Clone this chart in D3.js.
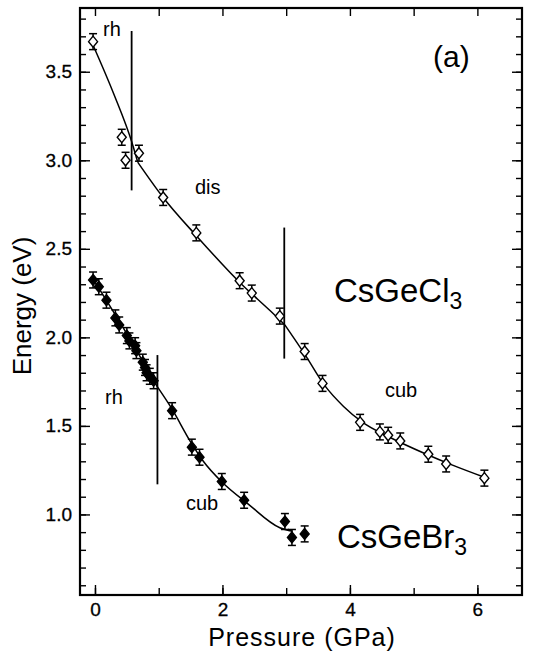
<!DOCTYPE html>
<html>
<head>
<meta charset="utf-8">
<script src="https://cdn.jsdelivr.net/npm/d3@7"></script>
<style>
  body { margin: 0; background: #fff; }
  text { font-family: "Liberation Sans", Arial, sans-serif; fill: #000; }
</style>
</head>
<body>
<div id="chart"></div>
<script>
// CsGeCl3 measured points (open diamonds)
const clPressure = [-0.03, 0.42, 0.48, 0.69, 1.07, 1.59, 2.27, 2.46, 2.90, 3.29, 3.57, 4.16, 4.47, 4.60, 4.79, 5.23, 5.51, 6.11];
const clEnergy   = [3.67, 3.13, 3.00, 3.04, 2.79, 2.59, 2.32, 2.25, 2.12, 1.92, 1.74, 1.52, 1.466, 1.447, 1.415, 1.34, 1.285, 1.205];

// CsGeBr3 measured points (filled diamonds)
const brPressure = [-0.03, 0.06, 0.18, 0.32, 0.38, 0.50, 0.54, 0.63, 0.65, 0.75, 0.785, 0.81, 0.86, 0.92, 1.21, 1.52, 1.64, 1.99, 2.34, 2.98, 3.09, 3.29];
const brEnergy   = [2.324, 2.286, 2.21, 2.11, 2.07, 2.01, 1.98, 1.953, 1.925, 1.86, 1.83, 1.80, 1.78, 1.755, 1.586, 1.38, 1.323, 1.186, 1.08, 0.96, 0.87, 0.89];

// fitted curves, one array per phase
const clFitRh  = [[-0.03, 3.65], [0.30, 3.37], [0.58, 3.10], [0.67, 2.99]];
const clFitDis = [[0.67, 2.99], [1.07, 2.79], [1.60, 2.57], [2.30, 2.30], [2.75, 2.15], [2.98, 2.07]];
const clFitCub = [[2.98, 2.07], [3.30, 1.90], [3.60, 1.73], [3.90, 1.61], [4.20, 1.52], [4.60, 1.44], [5.20, 1.34], [5.60, 1.28], [6.11, 1.21]];
const brFitRh  = [[-0.03, 2.33], [0.50, 2.02], [0.98, 1.72]];
const brFitCub = [[0.98, 1.72], [1.20, 1.60], [1.50, 1.41], [1.70, 1.30], [2.00, 1.18], [2.40, 1.06], [2.90, 0.925], [3.10, 0.905]];

// phase boundaries: [pressure, energy from, energy to]
const boundaries = [[0.575, 3.73, 2.83], [2.97, 2.62, 1.88], [0.98, 1.90, 1.17]];

const xTicks = [0, 2, 4, 6];
const yTicks = [1.0, 1.5, 2.0, 2.5, 3.0, 3.5];
const errBar = 0.045;

const width = 543;
const height = 654;
const margin = { top: 8, right: 21, bottom: 59, left: 80 };
const font = "Liberation Sans, Arial, sans-serif";

const svg = d3.select("#chart")
  .append("svg")
  .attr("width", width)
  .attr("height", height);

const x = d3.scaleLinear()
  .domain([-0.235, 6.70])
  .range([margin.left, width - margin.right]);

const y = d3.scaleLinear()
  .domain([0.545, 3.86])
  .range([height - margin.bottom, margin.top]);

const plotW = width - margin.left - margin.right;
const plotH = height - margin.top - margin.bottom;

// ticks on all four sides, pointing inward
const xMinor = d3.range(0, 7, 1);
const yMinor = d3.range(0.6, 3.85, 0.1);

svg.append("g")
  .attr("transform", `translate(0,${height - margin.bottom})`)
  .call(d3.axisBottom(x).tickValues(xMinor).tickSize(-7).tickFormat(""))
  .call(g => g.select(".domain").remove());
svg.append("g")
  .attr("transform", `translate(0,${height - margin.bottom})`)
  .call(d3.axisBottom(x).tickValues(xTicks).tickSize(-10).tickPadding(8).tickFormat(d3.format("d")))
  .call(g => g.select(".domain").remove())
  .call(g => g.selectAll("text").attr("font-size", 19).attr("font-family", font)
    .attr("stroke", "#000").attr("stroke-width", 0.3));
svg.append("g")
  .attr("transform", `translate(0,${margin.top})`)
  .call(d3.axisTop(x).tickValues(xMinor).tickSize(-8).tickFormat(""))
  .call(g => g.select(".domain").remove());

svg.append("g")
  .attr("transform", `translate(${margin.left},0)`)
  .call(d3.axisLeft(y).tickValues(yMinor).tickSize(-6).tickFormat(""))
  .call(g => g.select(".domain").remove());
svg.append("g")
  .attr("transform", `translate(${margin.left},0)`)
  .call(d3.axisLeft(y).tickValues(yTicks).tickSize(-10).tickPadding(8).tickFormat(d3.format(".1f")))
  .call(g => g.select(".domain").remove())
  .call(g => g.selectAll("text").attr("font-size", 19).attr("font-family", font)
    .attr("stroke", "#000").attr("stroke-width", 0.3));
svg.append("g")
  .attr("transform", `translate(${width - margin.right},0)`)
  .call(d3.axisRight(y).tickValues(yMinor).tickSize(-6).tickFormat(""))
  .call(g => g.select(".domain").remove());
svg.append("g")
  .attr("transform", `translate(${width - margin.right},0)`)
  .call(d3.axisRight(y).tickValues(yTicks).tickSize(-10).tickFormat(""))
  .call(g => g.select(".domain").remove());

svg.selectAll(".tick line").attr("stroke", "#000").attr("stroke-width", 1.4);

// frame
svg.append("rect")
  .attr("x", margin.left)
  .attr("y", margin.top)
  .attr("width", plotW)
  .attr("height", plotH)
  .attr("fill", "none")
  .attr("stroke", "#000")
  .attr("stroke-width", 2.2);

// fitted lines
const line = d3.line()
  .x(d => x(d[0]))
  .y(d => y(d[1]))
  .curve(d3.curveMonotoneX);

[clFitRh, clFitDis, clFitCub, brFitRh, brFitCub].forEach(fit => {
  svg.append("path")
    .datum(fit)
    .attr("d", line)
    .attr("fill", "none")
    .attr("stroke", "#000")
    .attr("stroke-width", 1.5);
});

// phase boundary bars
svg.selectAll(".boundary")
  .data(boundaries)
  .enter()
  .append("line")
  .attr("x1", d => x(d[0]))
  .attr("x2", d => x(d[0]))
  .attr("y1", d => y(d[1]))
  .attr("y2", d => y(d[2]))
  .attr("stroke", "#000")
  .attr("stroke-width", 1.8);

// markers with error bars
function drawSeries(px, py, filled) {
  const pts = px.map((p, i) => ({ p: p, e: py[i] }));
  const g = svg.append("g");
  const cap = 4;
  pts.forEach(d => {
    const cx = x(d.p);
    const top = y(d.e + errBar);
    const bot = y(d.e - errBar);
    g.append("line").attr("x1", cx).attr("x2", cx).attr("y1", top).attr("y2", bot)
      .attr("stroke", "#000").attr("stroke-width", 1.5);
    g.append("line").attr("x1", cx - cap).attr("x2", cx + cap).attr("y1", top).attr("y2", top)
      .attr("stroke", "#000").attr("stroke-width", 1.5);
    g.append("line").attr("x1", cx - cap).attr("x2", cx + cap).attr("y1", bot).attr("y2", bot)
      .attr("stroke", "#000").attr("stroke-width", 1.5);
  });
  g.selectAll("path")
    .data(pts)
    .enter()
    .append("path")
    .attr("d", "M0,-5.5L4.5,0L0,5.5L-4.5,0Z")
    .attr("transform", d => `translate(${x(d.p)},${y(d.e)})`)
    .attr("fill", filled ? "#000" : "#fff")
    .attr("stroke", "#000")
    .attr("stroke-width", 1.4);
}

drawSeries(clPressure, clEnergy, false);
drawSeries(brPressure, brEnergy, true);

// phase labels
const labels = [
  { t: "rh", x: 103, y: 36, s: 20 },
  { t: "dis", x: 195, y: 194, s: 20 },
  { t: "cub", x: 385, y: 397, s: 20 },
  { t: "rh", x: 105, y: 404, s: 20 },
  { t: "cub", x: 186, y: 510, s: 20 },
  { t: "(a)", x: 433, y: 67, s: 30 }
];
svg.selectAll(".lbl")
  .data(labels)
  .enter()
  .append("text")
  .attr("x", d => d.x)
  .attr("y", d => d.y)
  .attr("font-size", d => d.s)
  .text(d => d.t);

function compound(name, sub, px, py) {
  const t = svg.append("text").attr("x", px).attr("y", py).attr("font-size", 33);
  t.append("tspan").text(name);
  t.append("tspan").attr("font-size", 23).attr("dy", 7).text(sub);
}
compound("CsGeCl", "3", 334, 302);
compound("CsGeBr", "3", 337, 548);

// axis titles
svg.append("text")
  .attr("x", 302)
  .attr("y", 646)
  .attr("text-anchor", "middle")
  .attr("font-size", 25)
  .attr("letter-spacing", 1)
  .text("Pressure (GPa)");

svg.append("text")
  .attr("transform", `translate(31,306) rotate(-90)`)
  .attr("text-anchor", "middle")
  .attr("font-size", 26)
  .text("Energy (eV)");
</script>
</body>
</html>
